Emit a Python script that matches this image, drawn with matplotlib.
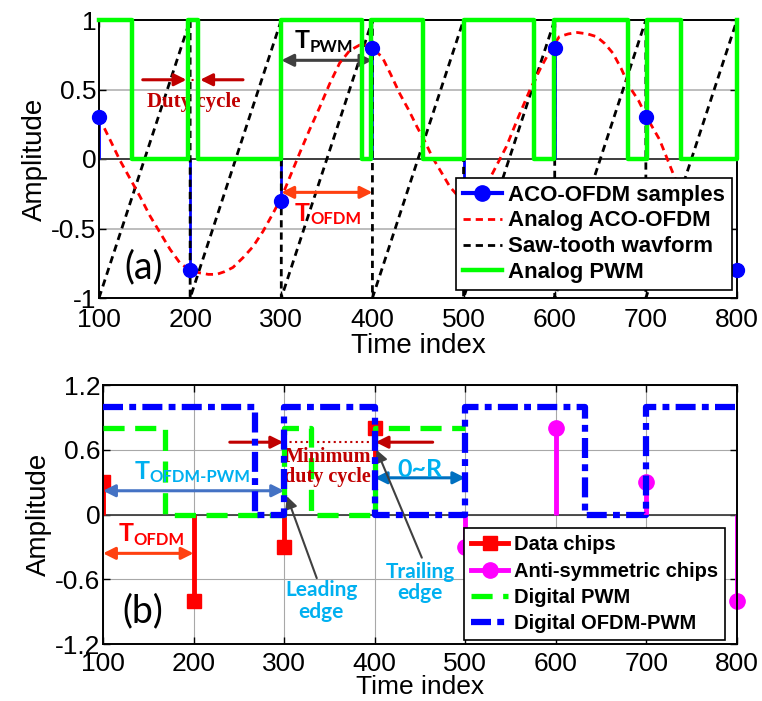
import numpy as np
import matplotlib.pyplot as plt
from matplotlib.lines import Line2D
from matplotlib.legend_handler import HandlerLine2D

plt.rcParams['font.family'] = 'Liberation Sans'

# ---------------- panel (a) ----------------
sample_t = [100, 200, 300, 400, 500, 600, 700, 800]
sample_amp = [0.3, -0.8, -0.3, 0.8, -0.3, 0.8, 0.3, -0.8]

# analog ACO-OFDM
analog_t = [100, 112, 123, 134, 145, 156, 167, 178, 189, 200, 211, 220, 229, 238,
            247, 258, 269, 280, 291, 300, 310, 320, 331, 342, 353, 364, 375, 386,
            393, 400, 411, 420, 430, 440, 449, 458, 466, 476, 485, 493, 500, 510,
            520, 532, 547, 560, 573, 585, 595, 605, 615, 625, 636, 646, 655, 664,
            673, 682, 692, 701, 715, 729, 740, 750, 763, 775, 788, 800]
analog_amp = [0.30, 0.14, -0.01, -0.14, -0.27, -0.41, -0.53, -0.65, -0.75, -0.80,
              -0.82, -0.83, -0.83, -0.81, -0.78, -0.71, -0.63, -0.52, -0.39, -0.28,
              -0.12, 0.04, 0.21, 0.37, 0.54, 0.69, 0.78, 0.82, 0.82, 0.80, 0.73,
              0.61, 0.47, 0.35, 0.23, 0.12, 0.01, -0.10, -0.20, -0.26, -0.30, -0.32,
              -0.24, -0.10, 0.09, 0.30, 0.50, 0.66, 0.78, 0.88, 0.90, 0.91, 0.90,
              0.88, 0.83, 0.76, 0.65, 0.52, 0.42, 0.30, 0.14, -0.09, -0.26, -0.42,
              -0.60, -0.73, -0.81, -0.80]

saw_t = [100, 200, 200, 300, 300, 400, 400, 500, 500, 600, 600, 700, 700, 800]
saw_amp = [-1, 1, -1, 1, -1, 1, -1, 1, -1, 1, -1, 1, -1, 1]

pwm_edges = [100, 136, 198, 209, 300, 389, 398, 455, 500, 577, 599, 680, 701, 739, 800]
pwm_level = [1, 0, 1, 0, 1, 0, 1, 0, 1, 0, 1, 0, 1, 0]

# ---------------- panel (b) ----------------
chip_t = [100, 200, 300, 400]
chip_amp = [0.3, -0.8, -0.3, 0.8]
anti_t = [500, 600, 700, 800]
anti_amp = [-0.3, 0.8, 0.3, -0.8]

dpwm_edges = [100, 168, 300, 330, 400, 500]
dpwm_level = [0.8, 0, 0.8, 0, 0.8]

ofdm_edges = [100, 268, 300, 400, 500, 632, 700, 800]
ofdm_level = [1, 0, 1, 0, 1, 0, 1]


def steps(edges, level):
    xs, ys = [], []
    for i, lv in enumerate(level):
        xs += [edges[i], edges[i + 1]]
        ys += [lv, lv]
    return xs, ys


class MarkerAtEnd(HandlerLine2D):
    def get_xdata(self, legend, xdescent, ydescent, width, height, fontsize):
        return [-xdescent, -xdescent + width], [-xdescent + 0.8 * width]


def tlabel(ax, x, y, sub, color, size=18, subsize=12):
    ax.annotate('T', (x, y), color=color, fontsize=size, fontweight='bold',
                family='Lato', ha='left', va='baseline')
    ax.annotate(sub, (x, y), xytext=(size * 0.6, -2.5), textcoords='offset points',
                color=color, fontsize=subsize, fontweight='bold', family='Lato',
                ha='left', va='baseline')


def arrow(ax, x0, x1, y, color, style='<|-|>', lw=2.2, ms=18):
    ax.annotate('', xy=(x1, y), xytext=(x0, y),
                arrowprops=dict(arrowstyle=style, color=color, lw=lw,
                                mutation_scale=ms, shrinkA=0, shrinkB=0))


def style_axes(ax, xpad, xlabelpad, xlabelsize):
    for s in ax.spines.values():
        s.set_linewidth(1.4)
    ax.tick_params(direction='in', top=True, right=True, length=5, width=1,
                   labelsize=19)
    ax.tick_params(axis='x', pad=xpad)
    ax.tick_params(axis='y', pad=2)
    ax.set_xlim(100, 800)
    ax.set_xticks([100, 200, 300, 400, 500, 600, 700, 800])
    ax.set_xlabel('Time index', fontsize=xlabelsize, labelpad=xlabelpad)
    ax.set_ylabel('Amplitude', fontsize=20, labelpad=2)
    ax.set_axisbelow(True)


fig = plt.figure(figsize=(7.62, 7.01), dpi=100)

# ======== (a) ========
ax1 = fig.add_axes([99 / 762, 1 - 298 / 701, 638 / 762, 278 / 701])
style_axes(ax1, 7, 1, 20)
ax1.set_ylim(-1, 1)
ax1.set_yticks([-1, -0.5, 0, 0.5, 1])
ax1.set_yticklabels(['-1', '-0.5', '0', '0.5', '1'])
ax1.yaxis.grid(True, color='#b8b8b8', lw=1.3)
ax1.axhline(0, color='#404040', lw=1.4, zorder=1)

ax1.vlines(sample_t, 0, sample_amp, color='#0000ff', lw=2, zorder=2)
h_s, = ax1.plot(sample_t, sample_amp, 'o', color='#0000ff', ms=10, zorder=6,
                clip_on=False)
h_a, = ax1.plot(analog_t, analog_amp, color='#ff0000', lw=2,
                ls=(0, (2.6, 1.8)), zorder=4)
h_w, = ax1.plot(saw_t, saw_amp, color='black', lw=2, ls=(0, (2.6, 1.8)), zorder=3)
px, py = steps(pwm_edges, pwm_level)
h_p, = ax1.plot(px + [800], py + [1], color='#00ff00', lw=3.2, zorder=5,
                clip_on=False)

h_s_leg = Line2D([], [], color='#0000ff', lw=3, marker='o', ms=11)
leg1 = ax1.legend([h_s_leg, h_a, h_w, h_p],
                  ['ACO-OFDM samples', 'Analog ACO-OFDM', 'Saw-tooth wavform',
                   'Analog PWM'],
                  handler_map={h_s_leg: MarkerAtEnd()},
                  loc='lower right', bbox_to_anchor=(0.992, 0.029),
                  borderaxespad=0, fancybox=False, framealpha=1,
                  edgecolor='black', prop=dict(weight='bold', size=16),
                  handlelength=1.75, handletextpad=0.3, labelspacing=0.22,
                  borderpad=0.3)
leg1.get_frame().set_linewidth(1.2)
leg1.set_zorder(10)

# annotations (a)
arrow(ax1, 148, 196, 0.57, '#c00000', style='-|>')
arrow(ax1, 258, 211, 0.57, '#c00000', style='-|>')
ax1.plot([196, 211], [0.57, 0.57], color='#c00000', lw=1.5, ls=':')
ax1.text(204, 0.375, 'Duty cycle', color='#c00000', fontsize=15,
         fontweight='bold', family='Liberation Serif', ha='center', va='baseline')
arrow(ax1, 300, 400, 0.71, '#404040')
tlabel(ax1, 315, 0.795, 'PWM', 'black')
arrow(ax1, 300, 400, -0.24, '#ff4010')
tlabel(ax1, 315, -0.445, 'OFDM', '#ff0000')
ax1.text(149, -0.78, '(a)', fontsize=27, family='Lato', ha='center', va='center')

# ======== (b) ========
ax2 = fig.add_axes([103 / 762, 1 - 644 / 701, 634 / 762, 259 / 701])
style_axes(ax2, 6, -1, 19)
ax2.set_ylim(-1.2, 1.2)
ax2.set_yticks([-1.2, -0.6, 0, 0.6, 1.2])
ax2.set_yticklabels(['-1.2', '-0.6', '0', '0.6', '1.2'])
ax2.grid(True, color='#a8a8a8', lw=0.8)
ax2.axhline(0, color='#404040', lw=1.3, zorder=1)

ax2.vlines(chip_t, 0, chip_amp, color='#ff0000', lw=3.5, zorder=2)
ax2.plot(chip_t, chip_amp, 's', color='#ff0000', ms=10, zorder=2)
ax2.vlines(anti_t, 0, anti_amp, color='#ff00ff', lw=3.5, zorder=2)
ax2.plot(anti_t, anti_amp, 'o', color='#ff00ff', ms=11, zorder=2, clip_on=False)
dx, dy = steps(dpwm_edges, dpwm_level)
h_d, = ax2.plot(dx, dy, color='#00ff00', lw=3.8, ls=(0, (4, 2)), zorder=3)
ox, oy = steps(ofdm_edges, ofdm_level)
h_o, = ax2.plot(ox, oy, color='#0000ff', lw=4.5, ls=(0, (3.2, 1, 1.1, 1)), zorder=4)

h_c_leg = Line2D([], [], color='#ff0000', lw=3.5, marker='s', ms=10)
h_m_leg = Line2D([], [], color='#ff00ff', lw=3.5, marker='o', ms=11)
leg2 = ax2.legend([h_c_leg, h_m_leg, h_d, h_o],
                  ['Data chips', 'Anti-symmetric chips', 'Digital PWM',
                   'Digital OFDM-PWM'],
                  handler_map={h_c_leg: MarkerAtEnd(), h_m_leg: MarkerAtEnd()},
                  loc='lower right', bbox_to_anchor=(0.981, 0.015),
                  borderaxespad=0, fancybox=False, framealpha=1,
                  edgecolor='black', prop=dict(weight='bold', size=14.5),
                  handlelength=1.8, handletextpad=0.3, labelspacing=0.36,
                  borderpad=0.35)
leg2.get_frame().set_linewidth(1.2)
leg2.set_zorder(10)

# annotations (b)
arrow(ax2, 100, 300, 0.22, '#4472c4')
tlabel(ax2, 135, 0.33, 'OFDM-PWM', '#00b0f0')
arrow(ax2, 100, 200, -0.36, '#ff4010')
tlabel(ax2, 117, -0.247, 'OFDM', '#ff0000')
ax2.text(144, -0.90, '(b)', fontsize=27, family='Lato', ha='center', va='center')

arrow(ax2, 240, 299, 0.67, '#c00000', style='-|>')
arrow(ax2, 464, 401, 0.67, '#c00000', style='-|>')
ax2.plot([300, 400], [0.67, 0.67], color='#c00000', lw=1.5, ls=':')
ax2.text(348, 0.44, 'Minimum\nduty cycle', color='#c00000', fontsize=14.5,
         fontweight='bold', family='Liberation Serif', ha='center', va='center',
         linespacing=0.95)
arrow(ax2, 400, 500, 0.34, '#0070c0')
ax2.text(450, 0.35, '0~R', color='#00b0f0', fontsize=18, fontweight='bold',
         family='Lato', ha='center', va='baseline')

ax2.annotate('', xy=(303, 0.17), xytext=(336, -0.59),
             arrowprops=dict(arrowstyle='-|>', color='#404040', lw=1.5,
                             mutation_scale=18, shrinkA=0, shrinkB=0))
ax2.annotate('', xy=(402, 0.60), xytext=(452, -0.40),
             arrowprops=dict(arrowstyle='-|>', color='#404040', lw=1.5,
                             mutation_scale=18, shrinkA=0, shrinkB=0))
ax2.text(341, -0.80, 'Leading\nedge', color='#00b0f0', fontsize=15,
         fontweight='bold', family='Lato', ha='center', va='center', linespacing=1.1)
ax2.text(450, -0.63, 'Trailing\nedge', color='#00b0f0', fontsize=15,
         fontweight='bold', family='Lato', ha='center', va='center', linespacing=1.1)

fig.savefig('out.png', dpi=100)
